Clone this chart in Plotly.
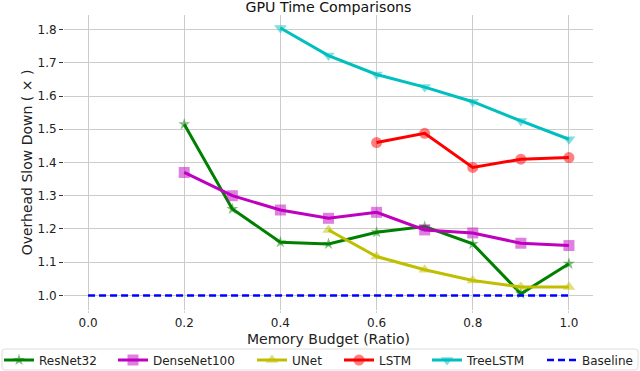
import plotly.graph_objects as go

budget = [0.2, 0.3, 0.4, 0.5, 0.6, 0.7, 0.8, 0.9, 1.0]

resnet32 = [1.515, 1.26, 1.16, 1.155, 1.19, 1.207, 1.155, 1.005, 1.095]
densenet100 = [1.37, 1.30, 1.257, 1.232, 1.25, 1.197, 1.188, 1.157, 1.15]

unet_x = [0.5, 0.6, 0.7, 0.8, 0.9, 1.0]
unet = [1.197, 1.117, 1.077, 1.045, 1.025, 1.025]

lstm_x = [0.6, 0.7, 0.8, 0.9, 1.0]
lstm = [1.46, 1.488, 1.385, 1.41, 1.415]

treelstm_x = [0.4, 0.5, 0.6, 0.7, 0.8, 0.9, 1.0]
treelstm = [1.805, 1.722, 1.665, 1.627, 1.583, 1.525, 1.47]

baseline_x = [0.0, 1.0]
baseline = [1.0, 1.0]

x_ticks = [0.0, 0.2, 0.4, 0.6, 0.8, 1.0]
y_ticks = [1.0, 1.1, 1.2, 1.3, 1.4, 1.5, 1.6, 1.7, 1.8]

series = [
    ("ResNet32", budget, resnet32, "#008000", "star", 9),
    ("DenseNet100", budget, densenet100, "#bf00bf", "square", 11),
    ("UNet", unet_x, unet, "#bfbf00", "triangle-up", 11),
    ("LSTM", lstm_x, lstm, "#ff0000", "circle", 11),
    ("TreeLSTM", treelstm_x, treelstm, "#00bfbf", "triangle-down", 11),
]

# plot area in pixels: left 64, right 593, top 15, bottom 310
L, R, T, B = 64, 593, 15, 310
PW, PH = R - L, B - T


def px_x(px):
    return (px - L) / PW


def px_y(py):
    return (B - py) / PH


# one legend per entry so the row can be spread like the original
legend_left = [-1, 113, 252, 339, 427, 542]
legend_ids = ["legend", "legend2", "legend3", "legend4", "legend5", "legend6"]

fig = go.Figure()

for i, (name, xs, ys, color, symbol, size) in enumerate(series):
    fig.add_trace(go.Scatter(
        x=xs, y=ys, name=name, mode="lines+markers", legend=legend_ids[i],
        showlegend=True,
        line=dict(color=color, width=3),
        marker=dict(symbol=symbol, size=size, color=color, opacity=0.5,
                    line=dict(width=0)),
    ))

fig.add_trace(go.Scatter(
    x=baseline_x, y=baseline, name="Baseline", mode="lines",
    legend=legend_ids[5], showlegend=True,
    line=dict(color="#0000ff", width=2.5, dash="7px,4px"),
))

legends = {}
for lid, left in zip(legend_ids, legend_left):
    legends[lid] = dict(
        orientation="h", x=px_x(left), xanchor="left",
        y=px_y(360), yanchor="middle",
        bgcolor="rgba(0,0,0,0)", borderwidth=0,
        font=dict(size=12, color="#222222"),
    )

# rounded legend frame
x0, x1, y0, y1 = px_x(2), px_x(638), px_y(349), px_y(370)
rx, ry = 3 / PW, 3 / PH
frame = (
    f"M{x0 + rx},{y0} L{x1 - rx},{y0} Q{x1},{y0} {x1},{y0 - ry} "
    f"L{x1},{y1 + ry} Q{x1},{y1} {x1 - rx},{y1} "
    f"L{x0 + rx},{y1} Q{x0},{y1} {x0},{y1 + ry} "
    f"L{x0},{y0 - ry} Q{x0},{y0} {x0 + rx},{y0} Z"
)

fig.update_layout(
    width=640, height=371,
    margin=dict(l=L, r=640 - R, t=T, b=371 - B, autoexpand=False),
    plot_bgcolor="white", paper_bgcolor="white",
    font=dict(family="DejaVu Sans", size=12, color="#222222"),
    showlegend=True,
    title=dict(text="GPU Time Comparisons", x=328.5 / 640,
               xanchor="center", y=0.994, yanchor="top",
               font=dict(size=14.2, color="#111111")),
    xaxis=dict(
        range=[-0.05, 1.05], tickvals=x_ticks, tickformat=".1f",
        showgrid=True, gridcolor="#cccccc", gridwidth=1,
        zeroline=False, showline=False,
        ticks="outside", ticklen=2, tickcolor="#cccccc",
        title=dict(text="Memory Budget (Ratio)", standoff=4),
    ),
    yaxis=dict(
        range=[0.956, 1.844], tickvals=y_ticks, tickformat=".1f",
        showgrid=True, gridcolor="#cccccc", gridwidth=1,
        zeroline=False, showline=False,
        ticks="outside", ticklen=4, tickcolor="#333333",
        title=dict(text="Overhead Slow Down ( × )", standoff=1),
    ),
    shapes=[dict(type="path", path=frame, xref="paper", yref="paper",
                 line=dict(color="#dddddd", width=1),
                 fillcolor="rgba(0,0,0,0)")],
    **legends,
)

fig.write_html("out.html", config={"displayModeBar": False},
               post_script="document.body.style.margin='0px';")
